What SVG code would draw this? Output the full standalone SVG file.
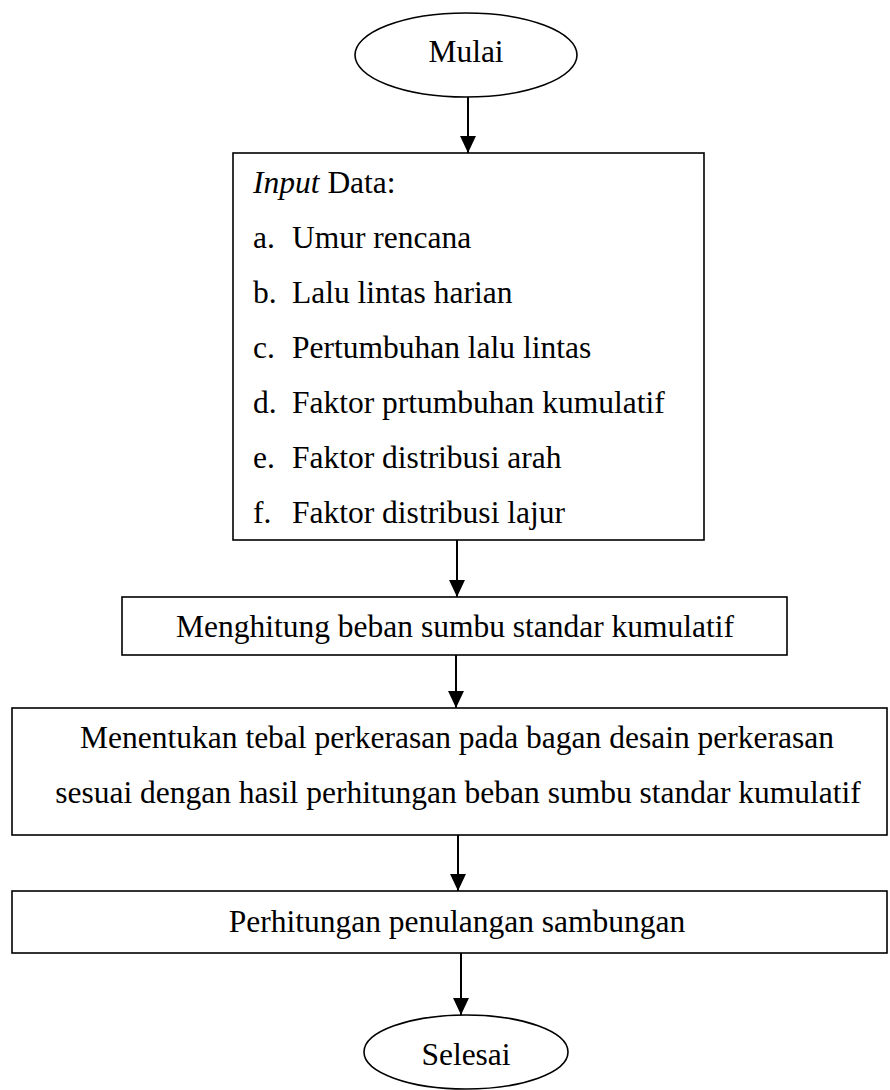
<svg xmlns="http://www.w3.org/2000/svg" width="890" height="1090" viewBox="0 0 890 1090">
<style>
.shape{fill:#fff;stroke:#000;stroke-width:1.6}
.t{font-family:"Liberation Serif","Times New Roman",serif;font-size:31.5px;fill:#000}
.c{text-anchor:middle}
.conn{stroke:#000;stroke-width:2;fill:none}
</style>
<defs>
<marker id="ah" markerUnits="userSpaceOnUse" markerWidth="18" markerHeight="18" viewBox="0 -8 17 16" refX="16" refY="0" orient="auto">
<path d="M0,-7.5 L16,0 L0,7.5 z" fill="#000"/>
</marker>
</defs>
<g id="connectors">
<line class="conn" x1="468" y1="97" x2="468" y2="153" marker-end="url(#ah)"/>
<line class="conn" x1="457" y1="540" x2="457" y2="597" marker-end="url(#ah)"/>
<line class="conn" x1="456" y1="655" x2="456" y2="708" marker-end="url(#ah)"/>
<line class="conn" x1="458" y1="835" x2="458" y2="891" marker-end="url(#ah)"/>
<line class="conn" x1="461" y1="953" x2="461" y2="1015" marker-end="url(#ah)"/>
</g>
<g id="start">
<ellipse class="shape" cx="466" cy="55" rx="111" ry="42"/>
<text class="t c" x="466" y="62">Mulai</text>
</g>
<g id="input">
<rect class="shape" x="233" y="153" width="471" height="387"/>
<text class="t" x="253" y="193"><tspan font-style="italic">Input</tspan> Data:</text>
<text class="t" x="253" y="248">a.</text><text class="t" x="292" y="248">Umur rencana</text>
<text class="t" x="253" y="303">b.</text><text class="t" x="292" y="303">Lalu lintas harian</text>
<text class="t" x="253" y="358">c.</text><text class="t" x="292" y="358">Pertumbuhan lalu lintas</text>
<text class="t" x="253" y="413">d.</text><text class="t" x="292" y="413">Faktor prtumbuhan kumulatif</text>
<text class="t" x="253" y="468">e.</text><text class="t" x="292" y="468">Faktor distribusi arah</text>
<text class="t" x="253" y="523">f.</text><text class="t" x="292" y="523">Faktor distribusi lajur</text>
</g>
<g id="hitung">
<rect class="shape" x="122" y="597" width="665" height="58"/>
<text class="t c" x="455" y="637">Menghitung beban sumbu standar kumulatif</text>
</g>
<g id="tebal">
<rect class="shape" x="12" y="708" width="875" height="127"/>
<text class="t c" x="457" y="748">Menentukan tebal perkerasan pada bagan desain perkerasan</text>
<text class="t c" x="458" y="803">sesuai dengan hasil perhitungan beban sumbu standar kumulatif</text>
</g>
<g id="penulangan">
<rect class="shape" x="12" y="891" width="875" height="62"/>
<text class="t c" x="457" y="932">Perhitungan penulangan sambungan</text>
</g>
<g id="end">
<ellipse class="shape" cx="466" cy="1052" rx="102" ry="37"/>
<text class="t c" x="466" y="1065">Selesai</text>
</g>
</svg>
